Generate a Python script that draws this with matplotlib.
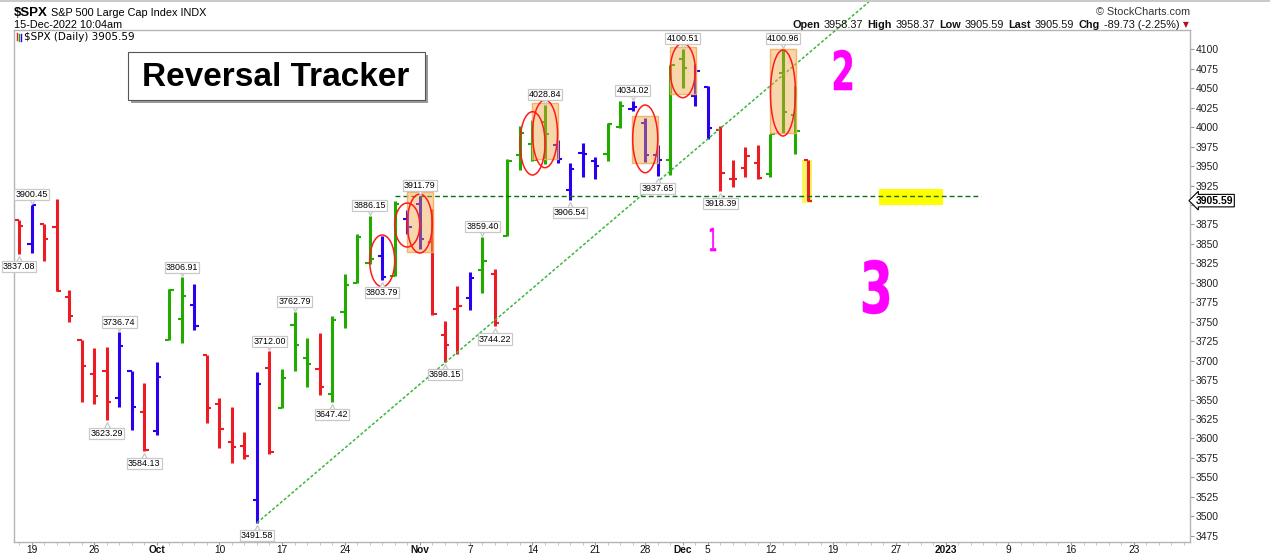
"""Reversal tracker chart for $SPX daily bars (StockCharts style)."""

import matplotlib

matplotlib.use("Agg")

import matplotlib.pyplot as plt
import matplotlib.transforms as mtransforms
import numpy as np
import pandas as pd
from matplotlib.font_manager import FontProperties
from matplotlib.patches import Ellipse, PathPatch, Rectangle
from matplotlib.textpath import TextPath


W, H = 1270, 555
SANS = ["Liberation Sans", "DejaVu Sans"]

# trading-day slots on the x axis (bars use the first len(OPENS) of them)
FIRST_DAY = "2022-09-16"
LAST_SLOT_DAY = "2023-02-03"
HOLIDAYS = ["2022-11-24", "2022-12-26"]

OPENS = [
    3880.95, 3849.91, 3875.23, 3871.40, 3782.36, 3727.14, 3682.72, 3686.44, 3651.94, 3687.01, 3633.48,
    3609.78, 3726.46, 3753.25, 3771.97, 3706.74, 3644.79, 3595.86, 3590.83, 3520.37, 3690.41, 3638.65,
    3746.26, 3703.11, 3689.05, 3657.10, 3762.01, 3799.44, 3825.97, 3834.69, 3808.26, 3881.85,
    3901.79, 3852.90, 3733.25, 3766.98, 3780.71, 3817.02, 3810.94, 3859.89, 3963.72, 3977.97, 4006.41,
    3976.82, 3919.26, 3966.39, 3956.23, 3965.51, 4000.30, 4023.34, 4005.36, 3964.07, 3957.18,
    4087.14, 4040.17, 4052.02, 3996.63, 3933.28, 3947.79, 3954.17, 3939.29, 4069.38, 4015.54, 3958.37,
]
HIGHS = [
    3880.95, 3900.45, 3876.01, 3907.07, 3790.20, 3727.14, 3715.67, 3717.53, 3736.74, 3687.01, 3671.44,
    3698.35, 3791.92, 3806.91, 3797.93, 3706.74, 3652.17, 3640.66, 3608.34, 3685.41, 3712.00, 3689.73,
    3762.79, 3728.58, 3736.00, 3757.89, 3810.74, 3862.85, 3886.15, 3859.95, 3905.42, 3893.73,
    3911.79, 3894.44, 3750.59, 3796.34, 3813.95, 3859.40, 3818.20, 3959.14, 4001.48, 4008.97, 4028.84,
    3983.96, 3954.33, 3979.89, 3962.00, 4005.88, 4033.78, 4034.02, 4012.27, 3976.77, 4080.11,
    4100.51, 4080.48, 4052.45, 4001.51, 3957.57, 3974.19, 3977.02, 3990.71, 4100.96, 4052.67, 3958.37,
]
LOWS = [
    3837.08, 3838.50, 3827.54, 3789.49, 3749.61, 3647.47, 3644.76, 3623.29, 3640.61, 3610.40, 3584.13,
    3604.93, 3726.46, 3722.66, 3739.22, 3620.00, 3588.10, 3568.45, 3573.86, 3491.58, 3579.68, 3638.65,
    3686.53, 3666.51, 3656.44, 3647.42, 3741.65, 3799.44, 3824.07, 3803.79, 3808.26, 3863.18,
    3843.80, 3758.68, 3698.15, 3708.84, 3764.70, 3786.28, 3744.22, 3859.89, 3944.82, 3956.40, 3953.17,
    3954.34, 3906.54, 3935.98, 3933.34, 3956.88, 3998.66, 4020.76, 3955.77, 3937.65, 3938.58,
    4050.87, 4026.63, 3984.49, 3918.39, 3922.68, 3935.83, 3933.04, 3935.30, 3993.03, 3965.65, 3905.59,
]
CLOSES = [
    3873.33, 3899.89, 3855.93, 3789.93, 3757.99, 3693.23, 3655.04, 3647.29, 3719.04, 3640.47, 3585.62,
    3678.43, 3790.93, 3783.28, 3744.52, 3639.66, 3612.39, 3588.84, 3577.03, 3669.91, 3583.07, 3677.95,
    3719.98, 3695.16, 3665.78, 3752.75, 3797.34, 3859.11, 3830.60, 3807.30, 3901.06, 3871.98,
    3856.10, 3759.69, 3719.89, 3770.55, 3806.80, 3828.11, 3748.57, 3956.37, 3992.93, 3957.25, 3991.73,
    3958.79, 3946.56, 3965.34, 3949.94, 4003.58, 4027.26, 4026.12, 3963.94, 3957.63, 4080.11,
    4076.57, 4071.70, 3998.84, 3941.26, 3933.92, 3963.51, 3934.38, 3990.56, 4019.65, 3995.32, 3905.59,
]
# impulse colour of every bar: R red, G green, B blue
BAR_CODES = "RBRRRRRRBBR" "BGGBRRRRBRGGGRGGGGBGB" "BRRRBGRGGGGBBBBGGBBBG" "GBBRRRRGGGR"

HIGH_LABEL_DATES = ["2022-09-19", "2022-09-28", "2022-10-05", "2022-10-14", "2022-10-18", "2022-10-26",
                    "2022-11-01", "2022-11-08", "2022-11-15", "2022-11-25", "2022-12-01", "2022-12-13"]
LOW_LABEL_DATES = ["2022-09-16", "2022-09-27", "2022-09-30", "2022-10-13", "2022-10-21", "2022-10-27",
                   "2022-11-03", "2022-11-09", "2022-11-17", "2022-11-29", "2022-12-06"]

TICK_DATES = ["2022-09-19", "2022-09-26", "2022-10-03", "2022-10-10", "2022-10-17", "2022-10-24",
              "2022-11-01", "2022-11-07", "2022-11-14", "2022-11-21", "2022-11-28", "2022-12-01",
              "2022-12-05", "2022-12-12", "2022-12-19", "2022-12-27", "2023-01-02", "2023-01-09",
              "2023-01-16", "2023-01-23"]
TICK_TEXT = ["19", "26", "Oct", "10", "17", "24", "Nov", "7", "14", "21", "28", "Dec",
             "5", "12", "19", "27", "2023", "9", "16", "23"]
MONTH_TEXT = {"Oct", "Nov", "Dec", "2023"}
PRICE_TICKS = list(range(3475, 4101, 25))

# hand-drawn annotations (slot index / price)
ELLIPSE_DATES = ["2022-10-27", "2022-10-31", "2022-11-01", "2022-11-14", "2022-11-15",
                 "2022-11-28", "2022-12-01", "2022-12-13"]
ELLIPSE_TOP = [3861.4, 3902.5, 3914.0, 4019.8, 4034.9, 4028.4, 4107.7, 4099.1]
ELLIPSE_BOTTOM = [3795.0, 3846.0, 3838.3, 3938.5, 3947.9, 3941.4, 4037.8, 3988.6]

BOX_DATES = ["2022-11-01", "2022-11-15", "2022-11-28", "2022-12-01", "2022-12-13"]
BOX_TOP = [3917.0, 4030.6, 4014.3, 4103.3, 4100.4]
BOX_BOTTOM = [3840.0, 3958.7, 3954.3, 4042.6, 3992.8]

SUPPORT_LEVEL = 3911.79
SUPPORT_X = [30, 76.8]
TREND_X = [19, 67.85]
TREND_Y = [3491.58, 4160.8]

LAST_BAR_BOX = (62.5, 63.3, 3902.0, 3957.8)
TARGET_BOX = (68.7, 73.8, 3900.0, 3920.0)

BAR_COLORS = {"R": "#ec1c24", "G": "#22aa00", "B": "#2a00f0"}


def trading_slots():
    days = pd.bdate_range(FIRST_DAY, LAST_SLOT_DAY)
    days = days[~days.isin(pd.to_datetime(HOLIDAYS))]
    return {d.strftime("%Y-%m-%d"): i for i, d in enumerate(days)}


def px_box_to_fig(x0, y0, x1, y1):
    return x0, H - y1, x1 - x0, y1 - y0


def draw_glyph(fig, char, box, color, weight="bold"):
    x0, y0, x1, y1 = box
    path = TextPath((0, 0), char, size=1, prop=FontProperties(family="DejaVu Sans", weight=weight))
    ext = path.get_extents()
    trans = (
        mtransforms.Affine2D()
        .translate(-ext.x0, -ext.y0)
        .scale((x1 - x0) / ext.width, (y1 - y0) / ext.height)
        .translate(x0, H - y1)
    )
    fig.add_artist(PathPatch(trans.transform_path(path), facecolor=color, edgecolor=color, lw=0.4,
                             transform=mtransforms.IdentityTransform()))


def place_row(fig, pieces, x_right, y_center, size):
    renderer = fig.canvas.get_renderer()
    x = x_right
    for text, weight in reversed(pieces):
        t = fig.text(x / W, 1 - y_center / H, text, ha="right", va="center", fontsize=size,
                     fontweight=weight, family=SANS, color="#111111")
        x = t.get_window_extent(renderer).x0 - 4
    return x


def main():
    slots = trading_slots()
    n = len(OPENS)
    x = np.arange(n)
    colors = [BAR_CODES and BAR_COLORS[c] for c in BAR_CODES]

    fig = plt.figure(figsize=(W / 100, H / 100), dpi=100)
    ax = fig.add_axes([14 / W, 13 / H, (1190 - 14) / W, (542 - 30) / H])
    ax.set_xlim(-0.4, 93.5)
    ax.set_ylim(3467.0, 4124.8)

    # highlight boxes under the bars
    lx0, lx1, ly0, ly1 = LAST_BAR_BOX
    ax.add_patch(Rectangle((lx0, ly0), lx1 - lx0, ly1 - ly0, facecolor="#f7f760", edgecolor="none", zorder=1))
    tx0, tx1, ty0, ty1 = TARGET_BOX
    ax.add_patch(Rectangle((tx0, ty0), tx1 - tx0, ty1 - ty0, facecolor="#ffff00", edgecolor="none", zorder=1))

    # OHLC bars
    ax.vlines(x, LOWS, HIGHS, colors=colors, lw=2.2, zorder=3)
    ax.hlines(OPENS, x - 0.34, x, colors=colors, lw=1.5, zorder=3)
    ax.hlines(CLOSES, x, x + 0.34, colors=colors, lw=1.5, zorder=3)

    # support and trend lines
    ax.plot(SUPPORT_X, [SUPPORT_LEVEL, SUPPORT_LEVEL], color="#0f6e0f", lw=1.0, dashes=(3.5, 2.2), zorder=5)
    ax.plot(TREND_X, TREND_Y, color="#3cb83c", lw=1.1, dashes=(2.0, 1.3), zorder=5, clip_on=False)

    # orange boxes and red ellipses drawn over the bars
    for date, top, bottom in zip(BOX_DATES, BOX_TOP, BOX_BOTTOM):
        ax.add_patch(Rectangle((slots[date] - 1.03, bottom), 2.06, top - bottom,
                               facecolor=(0.94, 0.63, 0.24, 0.43), edgecolor=(0.96, 0.68, 0.35, 0.9),
                               lw=1.0, zorder=6))
    for date, top, bottom in zip(ELLIPSE_DATES, ELLIPSE_TOP, ELLIPSE_BOTTOM):
        ax.add_patch(Ellipse((slots[date], (top + bottom) / 2), 2.0, top - bottom,
                             facecolor="none", edgecolor="#ff1a1a", lw=1.1, zorder=7))

    # value labels at swing highs and lows
    up = mtransforms.offset_copy(ax.transData, fig, x=0, y=4, units="dots")
    down = mtransforms.offset_copy(ax.transData, fig, x=0, y=-5, units="dots")
    label_box = dict(boxstyle="square,pad=0.12", facecolor="white", edgecolor="#c8c8c8", lw=0.9)
    for date in HIGH_LABEL_DATES:
        i = slots[date]
        ax.plot(i, HIGHS[i], marker="v", ms=4.5, mfc="white", mec="#c8c8c8", mew=0.9, transform=up, zorder=8)
        ax.annotate(f"{HIGHS[i]:.2f}", (i, HIGHS[i]), xytext=(0, 7.2), textcoords="offset points",
                    ha="center", va="center", fontsize=6.4, family=SANS, bbox=label_box, zorder=9)
    for date in LOW_LABEL_DATES:
        i = slots[date]
        ax.plot(i, LOWS[i], marker="^", ms=4.5, mfc="white", mec="#c8c8c8", mew=0.9, transform=down, zorder=8)
        ax.annotate(f"{LOWS[i]:.2f}", (i, LOWS[i]), xytext=(0, -9.2), textcoords="offset points",
                    ha="center", va="center", fontsize=6.4, family=SANS, bbox=label_box, zorder=9)

    # axes styling
    for spine in ax.spines.values():
        spine.set_color("#b4b4b4")
        spine.set_linewidth(1.0)
    ax.yaxis.tick_right()
    ax.set_yticks(PRICE_TICKS)
    # the last-price marker sits on top of the 3900 label
    ax.set_yticklabels(["" if p == 3900 else str(p) for p in PRICE_TICKS])
    ax.tick_params(axis="y", length=3, width=0.8, color="#999999", labelsize=7.5, pad=1, labelcolor="#222222")
    for label in ax.get_yticklabels():
        label.set_family(SANS)

    ax.set_xticks([slots[d] for d in TICK_DATES])
    ax.set_xticklabels(TICK_TEXT)
    ax.set_xticks(np.arange(0, 94), minor=True)
    ax.tick_params(axis="x", which="major", length=2, width=0.8, color="#999999", labelsize=7.3, pad=0.3,
                   labelcolor="#111111")
    ax.tick_params(axis="x", which="minor", length=2, width=0.6, color="#bbbbbb")
    for label in ax.get_xticklabels():
        label.set_family(SANS)
        if label.get_text() in MONTH_TEXT:
            label.set_fontweight("bold")

    # last price marker on the price axis
    ax.annotate("3905.59", (1.0, CLOSES[-1]), xycoords=ax.get_yaxis_transform(), xytext=(4, 0),
                textcoords="offset points", ha="left", va="center", fontsize=7.5, fontweight="bold",
                family=SANS, bbox=dict(boxstyle="larrow,pad=0.12", facecolor="white", edgecolor="black", lw=0.8),
                zorder=10, annotation_clip=False)

    # header
    fig.add_artist(plt.Line2D([0, 1], [1 - 0.8 / H, 1 - 0.8 / H], color="#c0c0c0", lw=1.2))
    fig.text(14 / W, 1 - 12.5 / H, "$SPX", fontsize=9.5, fontweight="bold", family=SANS, va="center")
    fig.text(51 / W, 1 - 12.5 / H, "S&P 500 Large Cap Index INDX", fontsize=7.8, family=SANS, va="center")
    fig.text(14 / W, 1 - 24.5 / H, "15-Dec-2022 10:04am", fontsize=7.8, family=SANS, va="center")
    ax.text(0.0085, 1 - 6.5 / 512, "$SPX (Daily) 3905.59", transform=ax.transAxes,
            fontsize=7.5, family="DejaVu Sans", va="center", ha="left")
    for dx, color, y0, y1 in ((2.5, "#ec1c24", 33, 40), (5.0, "#22aa00", 34, 41), (7.0, "#2a00f0", 34, 41)):
        fig.add_artist(plt.Line2D([(14 + dx) / W] * 2, [1 - y0 / H, 1 - y1 / H], color=color, lw=1.0))

    fig.text(1190 / W, 1 - 11.7 / H, "\u00a9 StockCharts.com", fontsize=7.8, family=SANS, ha="right",
             va="center", color="#333333")
    fig.text(1186 / W, 1 - 24.5 / H, "\u25bc", fontsize=5.5, color="#b01020", ha="center", va="center",
             family="DejaVu Sans")
    place_row(fig, [("Open", "bold"), ("3958.37", "normal"), ("High", "bold"), ("3958.37", "normal"),
                    ("Low", "bold"), ("3905.59", "normal"), ("Last", "bold"), ("3905.59", "normal"),
                    ("Chg", "bold"), ("-89.73 (-2.25%)", "normal")], 1179, 24.5, 7.8)

    # "Reversal Tracker" call-out with drop shadow
    sx, sy, sw, sh = px_box_to_fig(131, 55, 428, 103)
    fig.add_artist(Rectangle((sx, sy), sw, sh, facecolor="#9a9a9a", edgecolor="none",
                             transform=mtransforms.IdentityTransform()))
    bx, by, bw, bh = px_box_to_fig(128, 52, 425, 100)
    fig.add_artist(Rectangle((bx, by), bw, bh, facecolor="white", edgecolor="#555555", lw=0.8,
                             transform=mtransforms.IdentityTransform()))
    fig.text(276 / W, 1 - 77 / H, "Reversal Tracker", fontsize=24, fontweight="bold", family=SANS,
             ha="center", va="center")

    # magenta hand-written wave counts
    draw_glyph(fig, "2", (834, 50, 852, 90), "#ff00ff")
    draw_glyph(fig, "1", (710, 228, 716, 251), "#ff00ff", weight="normal")
    draw_glyph(fig, "3", (863, 260, 889, 314), "#ff00ff")

    fig.savefig("out.png", dpi=100)


if __name__ == "__main__":
    main()
